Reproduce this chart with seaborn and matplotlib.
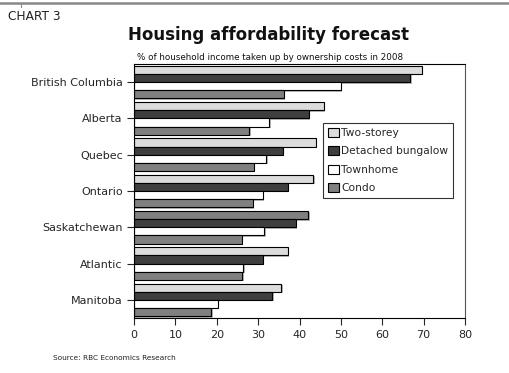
import matplotlib
matplotlib.use("Agg")
import matplotlib.pyplot as plt
import matplotlib.patheffects as pe
from matplotlib.lines import Line2D
import seaborn as sns
import pandas as pd

provinces = ["British Columbia", "Alberta", "Quebec", "Ontario",
             "Saskatchewan", "Atlantic", "Manitoba"]
housing_types = ["Two-storey", "Detached bungalow", "Townhome", "Condo"]

two_storey = [69.5, 45.9, 44.0, 43.3, 42.1, 37.1, 35.6]
bungalow = [66.8, 42.2, 36.0, 37.2, 39.1, 31.2, 33.4]
townhome = [50.0, 32.7, 32.0, 31.2, 31.5, 26.4, 20.3]
condo = [36.2, 27.9, 28.9, 28.7, 26.0, 26.2, 18.7]

x_ticks = [0, 10, 20, 30, 40, 50, 60, 70, 80]

rows = []
for series_name, values in zip(housing_types, [two_storey, bungalow, townhome, condo]):
    for prov, v in zip(provinces, values):
        rows.append({"province": prov, "type": series_name, "pct": v})
df = pd.DataFrame(rows)

palette = {"Two-storey": "#dcdcdc", "Detached bungalow": "#3f3f3f",
           "Townhome": "#ffffff", "Condo": "#808080"}

sns.set_style("white")
plt.rcParams["font.family"] = ["DejaVu Sans"]

fig = plt.figure(figsize=(5.09, 3.73), dpi=100)
ax = fig.add_axes([134 / 509, 1 - 318 / 373, (465 - 134) / 509, (318 - 64) / 373])

sns.barplot(data=df, y="province", x="pct", hue="type", order=provinces,
            hue_order=housing_types, palette=palette, orient="h",
            width=0.9, edgecolor="black", linewidth=0.8, saturation=1,
            ax=ax, legend=False)

# Saskatchewan's two-storey bar is shaded in the mid-grey tone
ax.containers[0][4].set_facecolor("#808080")

shadow = [pe.SimplePatchShadow(offset=(1, -1), shadow_rgbFace="#999999", alpha=0.7), pe.Normal()]
for cont in ax.containers:
    for bar in cont:
        bar.set_path_effects(shadow)

ax.set_xlim(0, 80)
ax.set_xticks(x_ticks)
ax.set_xticklabels([str(t) for t in x_ticks], fontsize=8)
ax.tick_params(axis="y", labelsize=8, length=5, width=0.8, pad=3, left=True)
ax.tick_params(axis="x", length=5, width=0.8, pad=4, bottom=True)
ax.set_ylabel("")
ax.set_xlabel("")
for s in ax.spines.values():
    s.set_color("black")
    s.set_linewidth(0.8)
ax.spines["right"].set_color("#555555")

handles = [plt.Rectangle((0, 0), 1, 1, facecolor=palette[t], edgecolor="black", linewidth=0.8)
           for t in housing_types]
leg = ax.legend(handles, housing_types, loc="upper left",
                bbox_to_anchor=((323 - 134) / (465 - 134), 1 - (123 - 64) / (318 - 64)),
                fontsize=7.7, frameon=True, fancybox=False, handlelength=1.0,
                handleheight=0.9, handletextpad=0.25, labelspacing=0.78,
                borderpad=0.45, borderaxespad=0)
leg.get_frame().set_edgecolor("black")
leg.get_frame().set_linewidth(0.8)

# header rule and titles
fig.add_artist(Line2D([0, 1], [1 - 3 / 373, 1 - 3 / 373], color="#888888", linewidth=1.8))
fig.add_artist(Line2D([21 / 509, 21 / 509], [1 - 4 / 373, 1 - 7 / 373], color="#888888", linewidth=0.8))
fig.text(8 / 509, 1 - 17 / 373, "CHART 3", fontsize=8.7, va="center", ha="left", color="#222222")
fig.text(269 / 509, 1 - 35 / 373, "Housing affordability forecast", fontsize=12,
         fontweight="bold", va="center", ha="center", color="#111111")
fig.text(270 / 509, 1 - 57 / 373, "% of household income taken up by ownership costs in 2008",
         fontsize=6.3, va="center", ha="center", color="#111111")
fig.text(53 / 509, 1 - 358 / 373, "Source: RBC Economics Research", fontsize=5.3,
         va="center", ha="left", color="#222222")

fig.savefig("out.png", dpi=100)
